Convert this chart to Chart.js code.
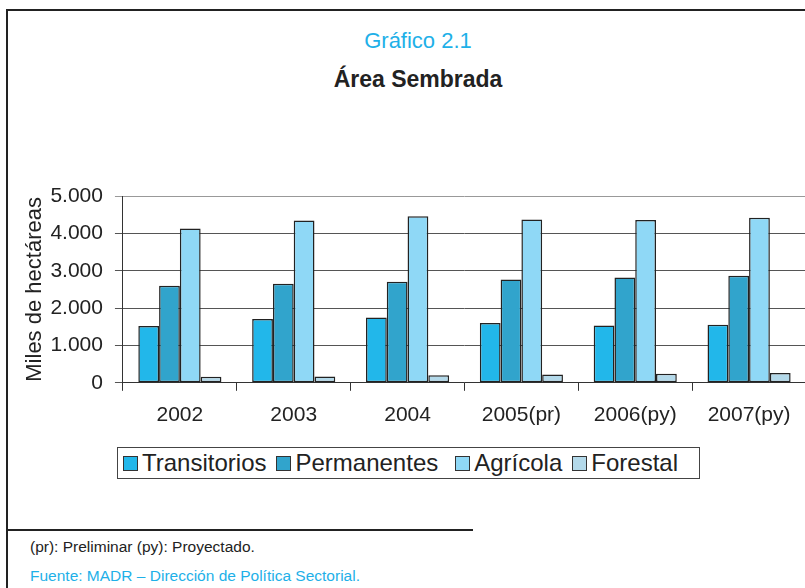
<!DOCTYPE html>
<html lang="es">

<head>
    <meta charset="UTF-8">
    <title>Gráfico 2.1 - Área Sembrada</title>
    <style>
        html, body { margin: 0; padding: 0; background: #fff; }
        body { width: 805px; height: 588px; overflow: hidden; position: relative; font-family: "Liberation Sans", Arial, sans-serif; }
        #chart { position: absolute; left: 8px; top: 11px; }
        .frame-top { position: absolute; left: 7px; top: 9px; width: 810px; height: 2px; background: #222; }
        .frame-left { position: absolute; left: 6px; top: 9px; width: 2px; height: 590px; background: #222; }
        .rule { position: absolute; left: 7px; top: 529px; width: 466px; height: 1.5px; background: #222; }
        .head { position: absolute; left: 218px; width: 400px; text-align: center; white-space: nowrap; }
        .h1 { top: 28px; font-size: 22px; line-height: 26px; color: #1eb0e8; }
        .h2 { top: 66px; font-size: 23px; line-height: 27px; font-weight: bold; color: #222; }
        #legend { position: absolute; left: 117px; top: 447px; width: 581px; height: 30px; border: 1px solid #444;
                  display: flex; align-items: center; font-size: 24px; color: #222; box-sizing: content-box; }
        #legend .item { display: flex; align-items: center; margin-left: 5px; margin-right: 5px; }
        #legend .sw { width: 13px; height: 13px; border: 1px solid #333; margin-right: 4px; }
        .note { position: absolute; left: 30px; font-size: 15.5px; white-space: nowrap; }
        .n1 { top: 538px; color: #222; }
        .n2 { top: 567px; color: #1eb0e8; }
    </style>
</head>

<body>
    <div class="frame-top"></div>
    <div class="frame-left"></div>
    <div class="head h1">Gráfico 2.1</div>
    <div class="head h2">Área Sembrada</div>
    <canvas id="chart" width="818" height="433"></canvas>
    <div id="legend"></div>
    <div class="rule"></div>
    <div class="note n1">(pr): Preliminar (py): Proyectado.</div>
    <div class="note n2">Fuente: MADR – Dirección de Política Sectorial.</div>

    <script src="https://cdn.jsdelivr.net/npm/chart.js"></script>
    <script>
        // data (miles de hectáreas)
        const years = ['2002', '2003', '2004', '2005(pr)', '2006(py)', '2007(py)'];
        const transitorios = [1520, 1710, 1745, 1600, 1535, 1555];
        const permanentes = [2600, 2650, 2705, 2765, 2820, 2865];
        const agricola = [4130, 4345, 4460, 4370, 4355, 4415];
        const forestal = [160, 170, 200, 225, 240, 260];
        const yMax = 5000;
        const yStep = 1000;

        const font = "'Liberation Sans', Arial, sans-serif";

        function miles(v) {
            return String(v).replace(/\B(?=(\d{3})+(?!\d))/g, '.');
        }

        function serie(label, data, color) {
            return {
                label: label,
                data: data,
                backgroundColor: color,
                borderColor: '#222',
                borderWidth: 1.5,
                borderSkipped: false,
                categoryPercentage: 0.73,
                barPercentage: 1
            };
        }

        const chart = new Chart(document.getElementById('chart'), {
            type: 'bar',
            data: {
                labels: years,
                datasets: [
                    serie('Transitorios', transitorios, '#22b7ea'),
                    serie('Permanentes', permanentes, '#31a4cc'),
                    serie('Agrícola', agricola, '#8fd8f6'),
                    serie('Forestal', forestal, '#b3d9ea')
                ]
            },
            options: {
                responsive: false,
                animation: false,
                devicePixelRatio: 1,
                layout: { padding: { left: 8, right: 20, bottom: 4, top: 185 } },
                plugins: {
                    legend: { display: false },
                    tooltip: { enabled: false }
                },
                scales: {
                    x: {
                        grid: { display: true, drawOnChartArea: false, drawTicks: true, tickLength: 8, color: '#333' },
                        border: { color: '#333', width: 1 },
                        ticks: { color: '#222', padding: 12, maxRotation: 0, font: { family: font, size: 21 } }
                    },
                    y: {
                        min: 0,
                        max: yMax,
                        ticks: {
                            stepSize: yStep,
                            color: '#222',
                            padding: 12,
                            font: { family: font, size: 21 },
                            callback: v => miles(v)
                        },
                        grid: {
                            color: ctx => ctx.tick && ctx.tick.value === yMax ? '#999' : '#555',
                            lineWidth: 1,
                            tickLength: 8
                        },
                        border: { color: '#333', width: 1 },
                        title: {
                            display: true,
                            text: 'Miles de hectáreas',
                            color: '#222',
                            padding: { top: 6, bottom: -10 },
                            font: { family: font, size: 22 }
                        }
                    }
                }
            }
        });

        // legend built from the chart datasets
        const legend = document.getElementById('legend');
        chart.data.datasets.forEach((ds, i) => {
            const item = document.createElement('div');
            item.className = 'item';
            if (i === 2) item.style.marginLeft = '12px';
            const sw = document.createElement('span');
            sw.className = 'sw';
            sw.style.background = ds.backgroundColor;
            const txt = document.createElement('span');
            txt.textContent = ds.label;
            item.appendChild(sw);
            item.appendChild(txt);
            legend.appendChild(item);
        });
    </script>
</body>

</html>
